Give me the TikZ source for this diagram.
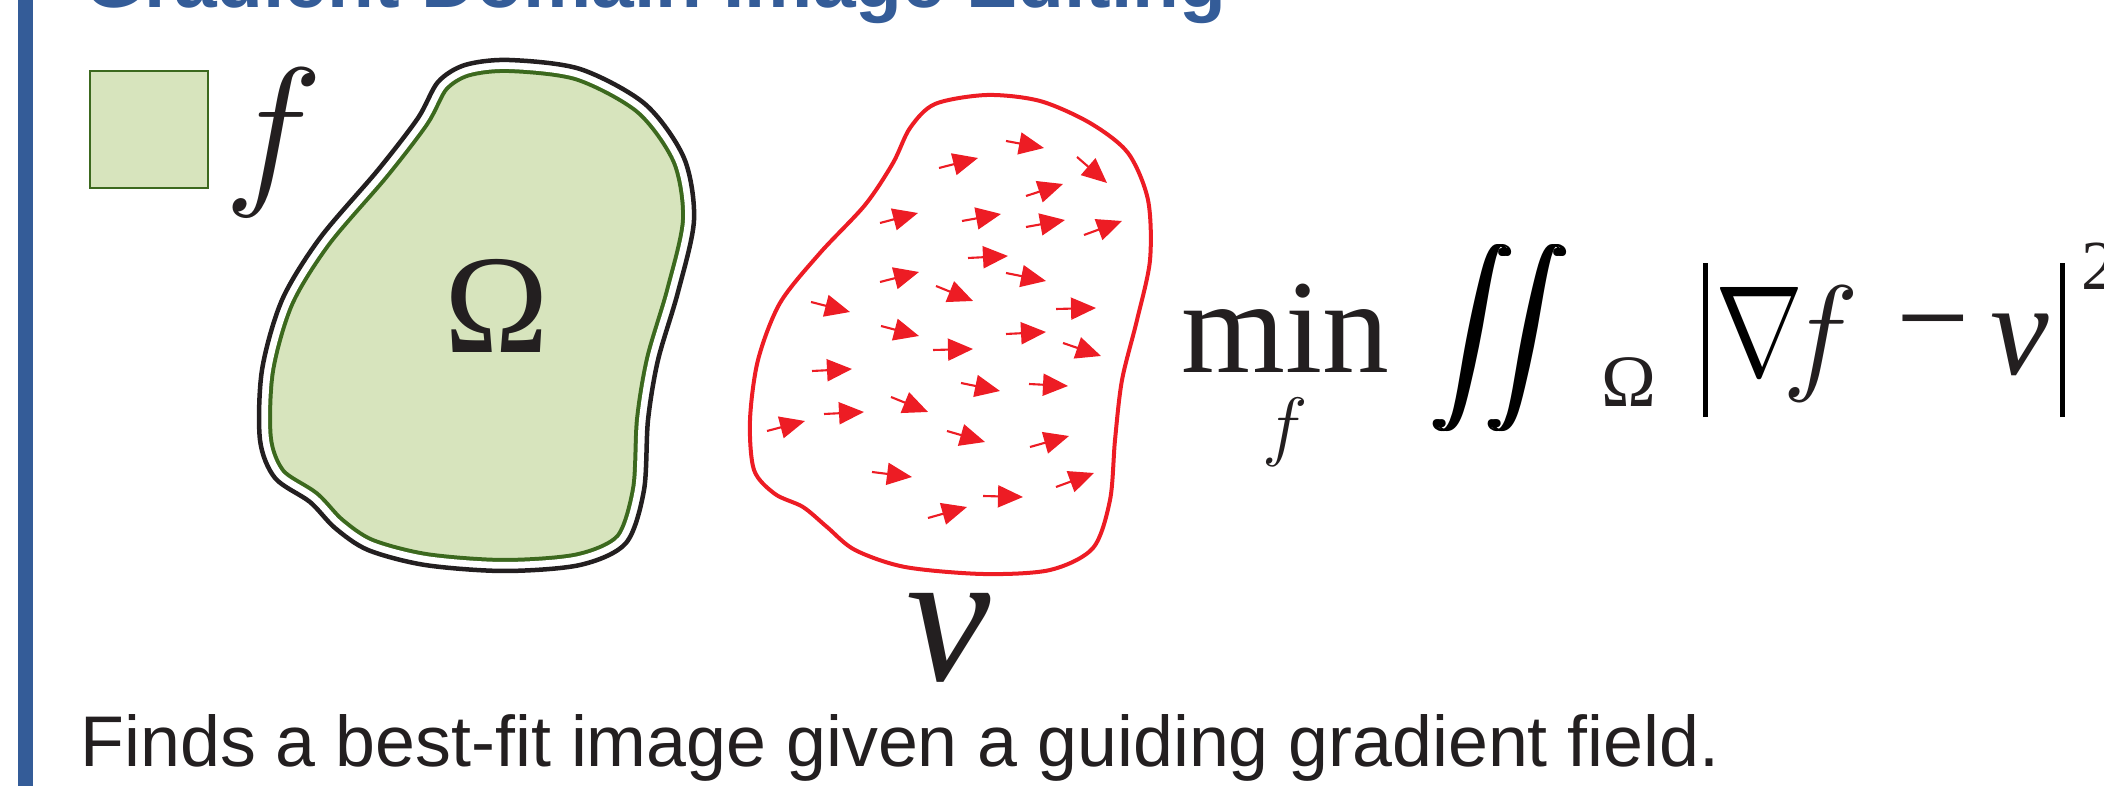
\documentclass[tikz,border=0pt]{standalone}
\usepackage{amsmath}
\usepackage{fontspec}
\setmainfont{Liberation Serif}
\newfontfamily\headfont{Liberation Sans}
\usepackage{graphicx}
\usetikzlibrary{arrows.meta}
\definecolor{slideblue}{RGB}{52,92,152}
\definecolor{leafgreen}{RGB}{215,228,189}
\definecolor{edgegreen}{RGB}{60,105,30}
\definecolor{inkblack}{RGB}{35,31,32}
\definecolor{fieldred}{RGB}{237,28,36}

% outline of the domain Omega and of the guidance field v (pixel units)
\newcommand{\domainpath}{plot[smooth cycle] coordinates {(438,82) (465,65) (509,60) (580,69) (645,104) (684,158) (694,220) (678,292) (658,360) (648,420) (644,490) (626,543) (580,565) (504,571) (425,565) (368,550) (335,528) (310,502) (275,478) (260,440) (262,370) (282,300) (320,238) (378,170) (418,118)}}
\newcommand{\fieldpath}{plot[smooth cycle] coordinates {(893,163) (910,128) (935,104) (987,95) (1040,101) (1090,123) (1128,153) (1148,200) (1150,260) (1137,320) (1122,380) (1115,440) (1110,500) (1093,548) (1050,570) (983,574) (905,567) (855,550) (827,527) (803,507) (775,494) (754,470) (750,420) (758,360) (780,303) (820,253) (865,205)}}
% heavy double integral, and an italic f at any size
\newcommand{\intglyph}{\resizebox*{1.38cm}{1.87cm}{$\displaystyle\iint$}}
\newcommand{\bigf}[1]{\scalebox{#1}{\fontsize{20.74}{24}\selectfont$f$}}

\begin{document}
\begin{tikzpicture}[
    x=0.01cm, y=-0.01cm,
    lbl/.style={inner sep=0pt, anchor=base, text=inkblack},
    field/.style={fieldred, line width=0.6pt, -{Triangle[length=0.25cm, width=0.22cm]}}
  ]
  \useasboundingbox (0,0) rectangle (2104,786);
  \fill[slideblue] (18,0) rectangle (33,786);
  \node[anchor=base west, inner sep=0pt, text=slideblue, font=\headfont\bfseries\fontsize{21.8}{24}\selectfont] (title) at (84,8) {Gradient Domain Image Editing};

  % swatch and f
  \node[draw=edgegreen, fill=leafgreen, line width=0.6pt, minimum width=1.18cm, minimum height=1.17cm, inner sep=0pt] (swatch) at (149,129.5) {};
  \node[lbl, anchor=base west] (flabel) at (224,185) {\bigf{2.29}};

  % domain
  \fill[leafgreen] \domainpath;
  \begin{scope}
    \clip \domainpath;
    \draw[edgegreen, line width=0.26cm] \domainpath;
    \draw[white, line width=0.18cm] \domainpath;
  \end{scope}
  \draw[inkblack, line width=0.045cm] \domainpath;
  \node[lbl, font=\fontsize{40}{42}\selectfont] (omega) at (497,353) {Ω};

  % guidance field
  \draw[fieldred, line width=0.04cm] \fieldpath;
  \foreach \ax/\ay/\bx/\by in {1006/141/1044/148, 939/168/978/158, 1077/157/1107/183, 1026/196/1063/184,
      880/223/918/213, 962/221/1001/214, 1026/227/1065/220, 1084/235/1122/221,
      968/258/1008/256, 880/282/919/272, 1006/273/1046/281, 936/286/973/301,
      811/302/850/312, 1056/309/1096/308, 881/326/919/336, 1006/334/1046/332,
      933/350/973/349, 1063/343/1101/356, 812/371/852/369, 961/383/1000/391,
      1029/384/1068/386, 891/397/928/412, 767/431/805/421, 824/414/864/412,
      947/431/985/442, 1030/447/1069/436, 872/472/912/477, 1056/487/1094/473,
      983/496/1023/497, 928/518/967/507}
    \draw[field] (\ax,\ay) -- (\bx,\by);
  \node[lbl, font=\fontsize{54}{56}\selectfont\itshape] (vlabel) at (949,680) {v};

  % energy
  \node[lbl, anchor=base west, font=\fontsize{38}{40}\selectfont] (minop) at (1181,373) {min};
  \node[lbl, anchor=base west] (minsub) at (1262,452) {\bigf{1.056}};
  \node[inner sep=0pt] (dblint) at (1500,338.5) {\rlap{\intglyph}\kern0.027cm\rlap{\intglyph}\kern0.027cm\intglyph};
  \node[lbl, font=\fontsize{21}{23}\selectfont] (intsub) at (1629,407) {Ω};
  \node[inner sep=0pt] (lbar) at (1705.5,340) {\rule{0.05cm}{1.54cm}};
  \node[inner sep=0pt] (nabla) at (1760,331) {\resizebox{0.88cm}{0.88cm}{$\nabla$}};
  \node[lbl, anchor=base west] (gradf) at (1782,377) {\bigf{1.784}};
  \node[lbl, font=\fontsize{37}{40}\selectfont] (minus) at (1933,362) {−};
  \node[lbl, anchor=base west, font=\fontsize{37.5}{40}\selectfont\itshape] (gradv) at (1990,375) {v};
  \node[inner sep=0pt] (rbar) at (2062.5,340) {\rule{0.05cm}{1.54cm}};
  \node[lbl, anchor=base west, font=\fontsize{20}{22}\selectfont] (sqr) at (2081,290) {2};

  \node[lbl, anchor=base west, font=\headfont\fontsize{20.4}{22}\selectfont] (caption) at (80,766) {Finds a best-fit image given a guiding gradient field.};
\end{tikzpicture}
\end{document}
